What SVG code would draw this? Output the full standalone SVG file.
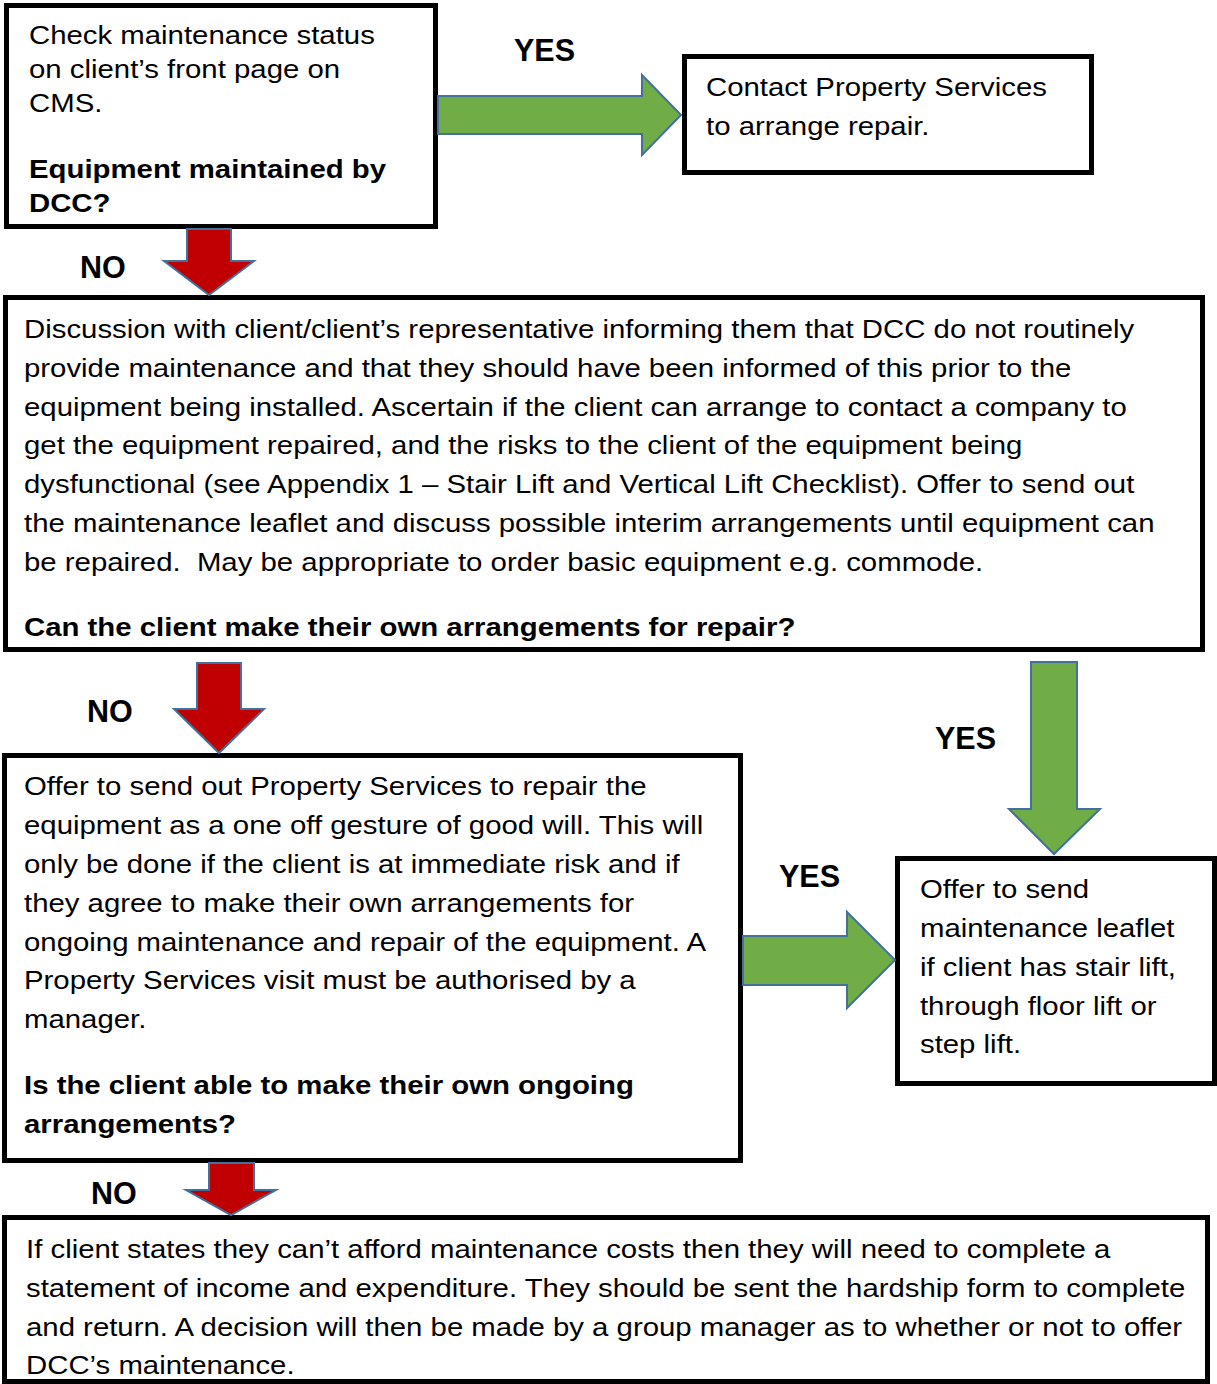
<svg xmlns="http://www.w3.org/2000/svg" width="1217" height="1384" viewBox="0 0 1217 1384">
<style>
.box{fill:#fff;stroke:#000;stroke-width:5}
.t{font-family:"Liberation Sans",Arial,sans-serif;font-size:26.5px;fill:#000}
.b{font-weight:bold}
.lbl{font-family:"Liberation Sans",Arial,sans-serif;font-size:30.5px;font-weight:bold;fill:#000}
.red{fill:#C00000;stroke:#41719C;stroke-width:2;stroke-linejoin:miter}
.green{fill:#70AD47;stroke:#41719C;stroke-width:2;stroke-linejoin:miter}
</style>
<rect width="1217" height="1384" fill="#fff"/>

<g id="node-check">
<rect class="box" x="6.5" y="5.5" width="429" height="221"/>
<g transform="scale(1.108 1)">
<text class="t" x="26.17" y="44">Check maintenance status</text>
<text class="t" x="26.17" y="78">on client’s front page on</text>
<text class="t" x="26.17" y="112">CMS.</text>
<text class="t b" x="26.17" y="178">Equipment maintained by</text>
<text class="t b" x="26.17" y="212">DCC?</text>
</g>
</g>

<g id="node-contact">
<rect class="box" x="684.5" y="56.5" width="407" height="116"/>
<g transform="scale(1.108 1)">
<text class="t" x="637.2" y="96">Contact Property Services</text>
<text class="t" x="637.2" y="135">to arrange repair.</text>
</g>
</g>

<g id="node-discussion">
<rect class="box" x="5.5" y="297.5" width="1197" height="352"/>
<g transform="scale(1.108 1)">
<text class="t" x="21.66" y="338">Discussion with client/client’s representative informing them that DCC do not routinely</text>
<text class="t" x="21.66" y="376.8">provide maintenance and that they should have been informed of this prior to the</text>
<text class="t" x="21.66" y="415.6">equipment being installed. Ascertain if the client can arrange to contact a company to</text>
<text class="t" x="21.66" y="454.4">get the equipment repaired, and the risks to the client of the equipment being</text>
<text class="t" x="21.66" y="493.2">dysfunctional (see Appendix 1 – Stair Lift and Vertical Lift Checklist). Offer to send out</text>
<text class="t" x="21.66" y="532">the maintenance leaflet and discuss possible interim arrangements until equipment can</text>
<text class="t" x="21.66" y="570.8">be repaired. &#160;May be appropriate to order basic equipment e.g. commode.</text>
<text class="t b" x="21.66" y="636">Can the client make their own arrangements for repair?</text>
</g>
</g>

<g id="node-offer-ps">
<rect class="box" x="4.5" y="755.5" width="736" height="405"/>
<g transform="scale(1.108 1)">
<text class="t" x="21.66" y="795">Offer to send out Property Services to repair the</text>
<text class="t" x="21.66" y="834">equipment as a one off gesture of good will. This will</text>
<text class="t" x="21.66" y="873">only be done if the client is at immediate risk and if</text>
<text class="t" x="21.66" y="912">they agree to make their own arrangements for</text>
<text class="t" x="21.66" y="951">ongoing maintenance and repair of the equipment. A</text>
<text class="t" x="21.66" y="989">Property Services visit must be authorised by a</text>
<text class="t" x="21.66" y="1028">manager.</text>
<text class="t b" x="21.66" y="1094">Is the client able to make their own ongoing</text>
<text class="t b" x="21.66" y="1133">arrangements?</text>
</g>
</g>

<g id="node-leaflet">
<rect class="box" x="897.5" y="858.5" width="317" height="225"/>
<g transform="scale(1.108 1)">
<text class="t" x="830.3" y="898">Offer to send</text>
<text class="t" x="830.3" y="937">maintenance leaflet</text>
<text class="t" x="830.3" y="976">if client has stair lift,</text>
<text class="t" x="830.3" y="1015">through floor lift or</text>
<text class="t" x="830.3" y="1053">step lift.</text>
</g>
</g>

<g id="node-hardship">
<rect class="box" x="4.5" y="1217.5" width="1203" height="164"/>
<g transform="scale(1.108 1)">
<text class="t" x="23.47" y="1258">If client states they can’t afford maintenance costs then they will need to complete a</text>
<text class="t" x="23.47" y="1297">statement of income and expenditure. They should be sent the hardship form to complete</text>
<text class="t" x="23.47" y="1336">and return. A decision will then be made by a group manager as to whether or not to offer</text>
<text class="t" x="23.47" y="1374">DCC’s maintenance.</text>
</g>
</g>

<g id="connectors">
<path class="red" d="M187,229 H231 V261 H254 L209,295 L164,261 H187 Z"/>
<path class="green" d="M438,96 H642 V75 L681,115 L642,155 V134 H438 Z"/>
<path class="red" d="M197,663 H241 V709 H264 L219,753 L174,709 H197 Z"/>
<path class="green" d="M1031,662 H1077 V809 H1100 L1054,854 L1009,809 H1031 Z"/>
<path class="green" d="M743,936 H847 V912 L895,960 L847,1008 V985 H743 Z"/>
<path class="red" d="M209,1163 H254 V1190 H276 L231,1215 L186,1190 H209 Z"/>
<text class="lbl" x="514" y="61">YES</text>
<text class="lbl" x="80" y="277.7">NO</text>
<text class="lbl" x="87" y="722">NO</text>
<text class="lbl" x="935" y="749">YES</text>
<text class="lbl" x="779" y="887">YES</text>
<text class="lbl" x="91" y="1204">NO</text>
</g>
</svg>
